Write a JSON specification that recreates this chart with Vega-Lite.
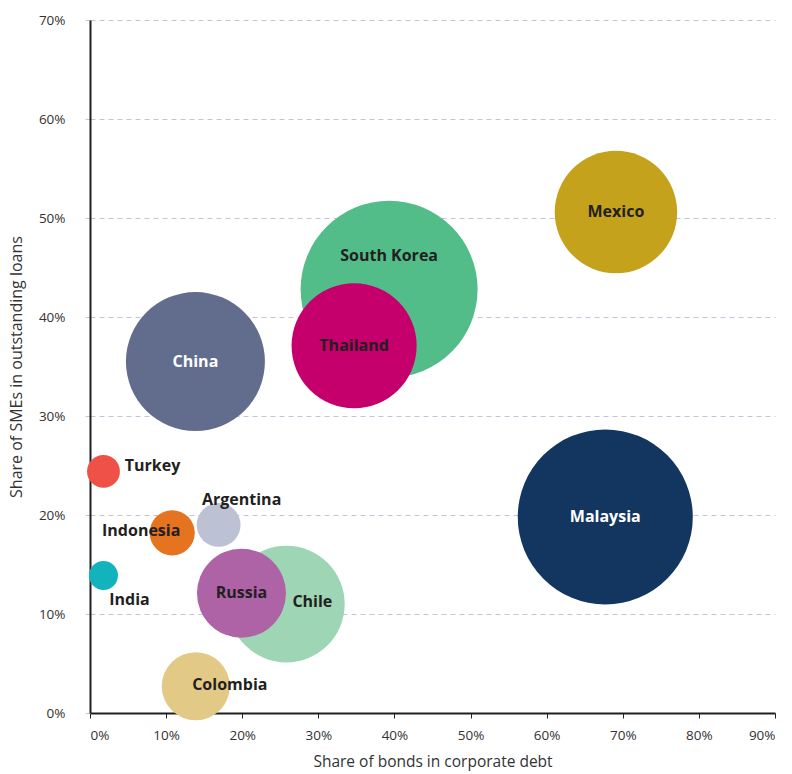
{
  "$schema": "https://vega.github.io/schema/vega-lite/v6.json",
  "width": 685,
  "height": 693,
  "autosize": "none",
  "padding": {"left": 90, "top": 20, "right": 17, "bottom": 61},
  "background": "white",
  "config": {
    "view": {"stroke": null},
    "font": "Open Sans"
  },
  "data": {
    "values": [
      {"country": "Malaysia", "bonds": 67.7, "smes": 19.8, "debt": 76.6},
      {"country": "South Korea", "bonds": 39.3, "smes": 42.8, "debt": 78.3},
      {"country": "Thailand", "bonds": 34.7, "smes": 37.1, "debt": 39.1},
      {"country": "Mexico", "bonds": 69.1, "smes": 50.6, "debt": 37.5},
      {"country": "China", "bonds": 13.85, "smes": 35.5, "debt": 48.3},
      {"country": "Chile", "bonds": 25.8, "smes": 11.0, "debt": 34.0},
      {"country": "Russia", "bonds": 19.9, "smes": 12.1, "debt": 19.8},
      {"country": "Colombia", "bonds": 13.9, "smes": 2.7, "debt": 11.6},
      {"country": "Argentina", "bonds": 16.9, "smes": 19.0, "debt": 4.8},
      {"country": "Indonesia", "bonds": 10.8, "smes": 18.2, "debt": 5.1},
      {"country": "Turkey", "bonds": 1.77, "smes": 24.4, "debt": 2.7},
      {"country": "India", "bonds": 1.77, "smes": 13.9, "debt": 2.1}
    ]
  },
  "encoding": {
    "x": {
      "field": "bonds", "type": "quantitative",
      "scale": {"domain": [0, 90], "nice": false, "zero": true},
      "axis": {
        "title": "Share of bonds in corporate debt",
        "values": [0, 10, 20, 30, 40, 50, 60, 70, 80, 90],
        "labelExpr": "datum.value + '%'",
        "grid": false,
        "domainColor": "#231f20", "domainWidth": 2,
        "tickColor": "#231f20", "tickSize": 5, "tickWidth": 1,
        "labelFont": "Open Sans", "labelFontSize": 13.5, "labelColor": "#333333",
        "labelPadding": 10,
        "titleFont": "Open Sans", "titleFontSize": 15.5, "titleFontWeight": "normal", "titleColor": "#333333",
        "titlePadding": 13
      }
    },
    "y": {
      "field": "smes", "type": "quantitative",
      "scale": {"domain": [0, 70], "nice": false, "zero": true},
      "axis": {
        "title": "Share of SMEs in outstanding loans",
        "values": [0, 10, 20, 30, 40, 50, 60, 70],
        "labelExpr": "datum.value + '%'",
        "grid": true,
        "gridColor": "#c5c3da", "gridDash": [5, 4], "gridWidth": 1,
        "domainColor": "#231f20", "domainWidth": 2,
        "tickColor": "#c5c3da", "tickSize": 7, "tickDash": [5, 4], "tickWidth": 1,
        "labelFont": "Open Sans", "labelFontSize": 13.5, "labelColor": "#333333",
        "labelPadding": 18,
        "titleFont": "Open Sans", "titleFontSize": 16, "titleFontWeight": "normal", "titleColor": "#333333",
        "titlePadding": 14
      }
    }
  },
  "layer": [
    {
      "mark": {"type": "circle", "opacity": 1, "stroke": null},
      "encoding": {
        "size": {
          "field": "debt", "type": "quantitative",
          "scale": {"type": "linear", "domain": [0, 100], "range": [0, 40000]},
          "legend": null
        },
        "color": {
          "field": "country", "type": "nominal",
          "scale": {
            "domain": ["Malaysia", "South Korea", "Thailand", "Mexico", "China", "Chile", "Russia", "Colombia", "Argentina", "Indonesia", "Turkey", "India"],
            "range": ["#12365f", "#52bd89", "#c5006c", "#c4a21b", "#626d8e", "#9dd5b5", "#ad63a6", "#e2c985", "#bdc1d4", "#e5731f", "#ef5147", "#12b3bd"]
          },
          "legend": null
        },
        "order": {"field": "debt", "type": "quantitative", "sort": "descending"}
      }
    },
    {
      "transform": [{"filter": {"field": "country", "oneOf": ["Mexico", "Thailand", "China", "Malaysia", "Russia"]}}],
      "mark": {"type": "text", "font": "Open Sans", "fontWeight": "bold", "fontSize": 16, "baseline": "middle", "align": "center"},
      "encoding": {
        "text": {"field": "country"},
        "color": {"condition": {"test": "datum.country === 'China' || datum.country === 'Malaysia'", "value": "#ffffff"}, "value": "#231f20"}
      }
    },
    {
      "transform": [{"filter": {"field": "country", "equal": "South Korea"}}],
      "mark": {"type": "text", "font": "Open Sans", "fontWeight": "bold", "fontSize": 16, "baseline": "middle", "align": "center", "dy": -33, "color": "#231f20"},
      "encoding": {"text": {"field": "country"}}
    },
    {
      "transform": [{"filter": {"field": "country", "equal": "Turkey"}}],
      "mark": {"type": "text", "font": "Open Sans", "fontWeight": "bold", "fontSize": 16, "baseline": "middle", "align": "center", "dx": 49, "dy": -5, "color": "#231f20"},
      "encoding": {"text": {"field": "country"}}
    },
    {
      "transform": [{"filter": {"field": "country", "equal": "Argentina"}}],
      "mark": {"type": "text", "font": "Open Sans", "fontWeight": "bold", "fontSize": 16, "baseline": "middle", "align": "center", "dx": 23, "dy": -25, "color": "#231f20"},
      "encoding": {"text": {"field": "country"}}
    },
    {
      "transform": [{"filter": {"field": "country", "equal": "Indonesia"}}],
      "mark": {"type": "text", "font": "Open Sans", "fontWeight": "bold", "fontSize": 16, "baseline": "middle", "align": "center", "dx": -31, "dy": -2, "color": "#231f20"},
      "encoding": {"text": {"field": "country"}}
    },
    {
      "transform": [{"filter": {"field": "country", "equal": "India"}}],
      "mark": {"type": "text", "font": "Open Sans", "fontWeight": "bold", "fontSize": 16, "baseline": "middle", "align": "center", "dx": 26, "dy": 25, "color": "#231f20"},
      "encoding": {"text": {"field": "country"}}
    },
    {
      "transform": [{"filter": {"field": "country", "equal": "Chile"}}],
      "mark": {"type": "text", "font": "Open Sans", "fontWeight": "bold", "fontSize": 16, "baseline": "middle", "align": "center", "dx": 26, "dy": -2, "color": "#231f20"},
      "encoding": {"text": {"field": "country"}}
    },
    {
      "transform": [{"filter": {"field": "country", "equal": "Colombia"}}],
      "mark": {"type": "text", "font": "Open Sans", "fontWeight": "bold", "fontSize": 16, "baseline": "middle", "align": "center", "dx": 34, "dy": -1, "color": "#231f20"},
      "encoding": {"text": {"field": "country"}}
    }
  ]
}
